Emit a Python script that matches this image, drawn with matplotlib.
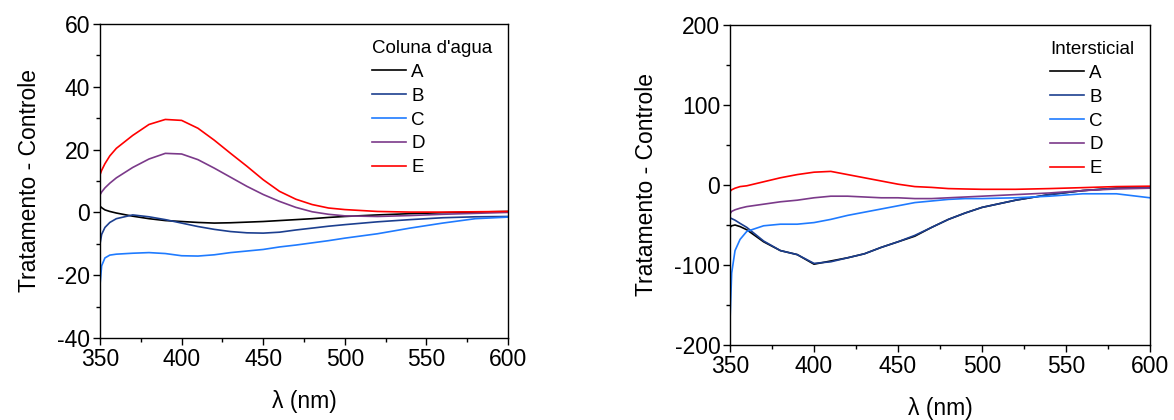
import matplotlib.pyplot as plt
from matplotlib.ticker import MultipleLocator

plt.rcParams['font.family'] = ['Liberation Sans', 'DejaVu Sans']
plt.rcParams['axes.unicode_minus'] = False

# Wavelength grid (nm), denser at the start where the curves move fast
wl = [350, 351, 353, 356, 360, 370, 380, 390, 400, 410, 420, 430, 440, 450,
      460, 470, 480, 490, 500, 520, 540, 560, 580, 600]

# Coluna d'agua
agua_A = [2.0, 1.5, 0.8, 0.3, -0.2, -1.2, -2.0, -2.6, -2.9, -3.2, -3.4, -3.3, -3.1, -2.9,
          -2.6, -2.3, -2.0, -1.6, -1.3, -0.8, -0.4, -0.1, 0.1, 0.3]
agua_B = [-10.0, -7.0, -4.8, -3.2, -2.0, -0.8, -1.4, -2.3, -3.4, -4.5, -5.4, -6.1, -6.5, -6.6,
          -6.3, -5.6, -5.0, -4.4, -3.9, -3.0, -2.3, -1.7, -1.4, -1.3]
agua_C = [-23.0, -17.0, -14.5, -13.6, -13.3, -13.0, -12.8, -13.1, -13.8, -13.9, -13.5, -12.8, -12.3, -11.8,
          -11.0, -10.4, -9.7, -9.0, -8.2, -6.8, -5.0, -3.4, -2.0, -1.5]
agua_D = [5.6, 6.5, 7.8, 9.3, 11.0, 14.3, 17.0, 18.8, 18.6, 16.8, 14.1, 11.2, 8.3, 5.7,
          3.5, 1.6, 0.2, -0.6, -1.1, -1.3, -1.0, -0.6, -0.3, 0.0]
agua_E = [12.0, 13.4, 15.5, 18.0, 20.4, 24.5, 28.0, 29.6, 29.3, 26.8, 23.0, 18.8, 14.7, 10.4,
          6.7, 4.2, 2.5, 1.4, 0.9, 0.3, 0.1, 0.1, 0.2, 0.3]

# Intersticial
inter_A = [-53, -51, -50, -52, -56, -71, -82, -87, -99, -95, -91, -86, -78, -71,
           -64, -53, -43, -35, -28, -19, -12, -7, -4, -3]
inter_B = [-41, -42, -44, -48, -53, -70, -82, -87, -98, -96, -91, -86, -78, -71,
           -63, -53, -43, -35, -28, -19, -12, -7, -4, -3]
inter_C = [-170, -110, -82, -68, -58, -51, -49, -49, -47, -43, -38, -34, -30, -26,
           -22, -20, -18, -17, -17, -16, -14, -11, -11, -16]
inter_D = [-36, -33, -31, -29, -27, -24, -21, -19, -16, -14, -14, -15, -16, -16,
           -17, -17, -16, -15, -14, -12, -10, -7, -5, -4]
inter_E = [-8, -6, -4, -2, -1, 4, 9, 13, 16, 17, 13, 9, 5, 1,
           -2, -3, -4.5, -5, -5.4, -5.4, -4.5, -3.3, -2, -1.5]

labels = ['A', 'B', 'C', 'D', 'E']
colors = ['#000000', '#1c3f8f', '#1f7bff', '#7b3a8a', '#ff0000']

FS = 16.5


def style_axes(ax, ymin, ymax, ymajor, yminor):
    ax.set_xlim(350, 600)
    ax.set_ylim(ymin, ymax)
    ax.xaxis.set_major_locator(MultipleLocator(50))
    ax.xaxis.set_minor_locator(MultipleLocator(25))
    ax.yaxis.set_major_locator(MultipleLocator(ymajor))
    ax.yaxis.set_minor_locator(MultipleLocator(yminor))
    ax.tick_params(which='major', direction='out', length=5, width=1, labelsize=FS, pad=2)
    ax.tick_params(which='minor', direction='out', length=3, width=1)
    for sp in ax.spines.values():
        sp.set_linewidth(1)
    ax.set_xlabel('λ (nm)', fontsize=FS)
    ax.set_ylabel('Tratamento - Controle', fontsize=FS)


def add_legend(ax, title):
    leg = ax.legend(title=title, loc='upper right', frameon=False, fontsize=13.5,
                    title_fontsize=13.5, handlelength=1.8, handletextpad=0.3,
                    labelspacing=0.36, borderaxespad=0.2, borderpad=0.65)
    leg._legend_box.align = 'left'


fig = plt.figure(figsize=(11.74, 4.2), dpi=100)

ax1 = fig.add_axes([0.0852, 0.1952, 0.3475, 0.7477])
for ys, lab, c in zip([agua_A, agua_B, agua_C, agua_D, agua_E], labels, colors):
    ax1.plot(wl, ys, color=c, lw=1.2, label=lab)
style_axes(ax1, -40, 60, 20, 10)
ax1.xaxis.labelpad = 14
ax1.yaxis.labelpad = 12
add_legend(ax1, "Coluna d'agua")

ax2 = fig.add_axes([0.6218, 0.1786, 0.3578, 0.7619])
for ys, lab, c in zip([inter_A, inter_B, inter_C, inter_D, inter_E], labels, colors):
    ax2.plot(wl, ys, color=c, lw=1.2, label=lab)
style_axes(ax2, -200, 200, 100, 50)
ax2.xaxis.labelpad = 14
ax2.yaxis.labelpad = 12
add_legend(ax2, 'Intersticial')

fig.savefig('out.png', dpi=100)
